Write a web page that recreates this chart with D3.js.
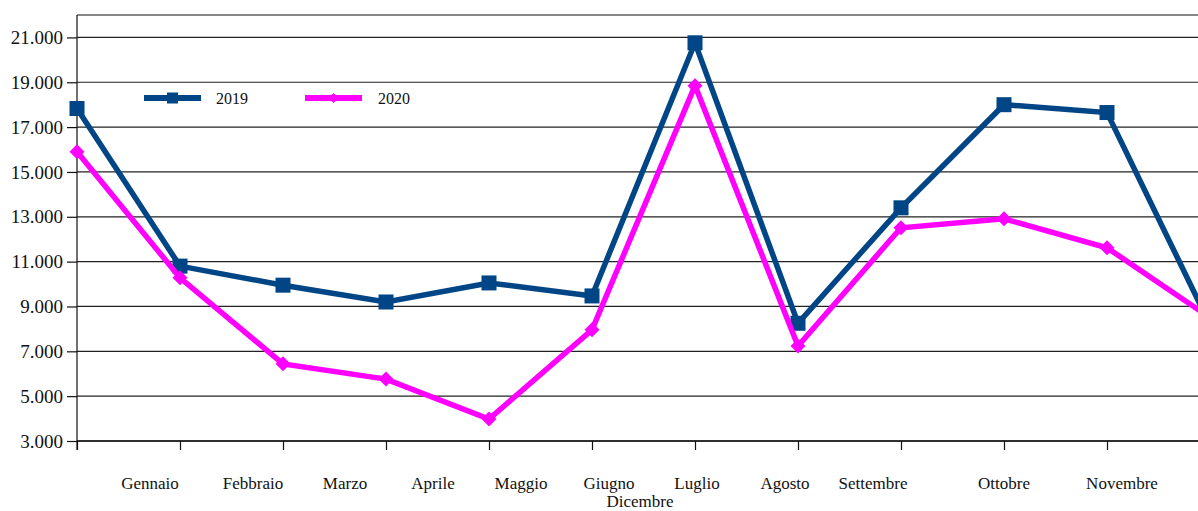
<!DOCTYPE html>
<html>
<head>
<meta charset="utf-8">
<script src="https://cdn.jsdelivr.net/npm/d3@7"></script>
<style>
  html, body { margin: 0; padding: 0; background: #fff; overflow: hidden; }
  svg { display: block; }
  svg text { font-family: "Liberation Serif", "Times New Roman", serif !important; fill: #111; }
</style>
</head>
<body>
<svg id="chart" width="1198" height="511"></svg>
<script>
// Monthly totals, two years
const months = ["Gennaio", "Febbraio", "Marzo", "Aprile", "Maggio", "Giugno",
                "Luglio", "Agosto", "Settembre", "Ottobre", "Novembre", "Dicembre"];
const values2019 = [17830, 10800, 9950, 9200, 10050, 9470, 20760, 8250, 13400, 18000, 17650, 8180];
const values2020 = [15900, 10280, 6440, 5760, 3980, 7960, 18850, 7240, 12510, 12910, 11620, 8500];
const yTicks = [3000, 5000, 7000, 9000, 11000, 13000, 15000, 17000, 19000, 21000];
const seriesNames = ["2019", "2020"];

// Layout
const plotLeft = 77, plotTop = 15, plotBottom = 441, step = 103;
const plotRight = plotLeft + step * (months.length - 1);
// category label centres (staggered, last one wraps to a second row)
const labelX = [150, 253, 345, 433, 521, 609, 697, 785, 873, 1004, 1122, 640];
const labelRow = [0, 0, 0, 0, 0, 0, 0, 0, 0, 0, 0, 1];

const svg = d3.select("#chart");
const fmt = d3.formatLocale({ decimal: ",", thousands: ".", grouping: [3], currency: ["", ""] }).format(",.0f");

const x = d3.scalePoint().domain(months).range([plotLeft, plotRight]);
const y = d3.scaleLinear().domain([3000, 22000]).range([plotBottom, plotTop]);

// horizontal grid
svg.append("g").selectAll("line").data(yTicks).join("line")
  .attr("x1", plotLeft).attr("x2", plotRight + 20)
  .attr("y1", d => y(d)).attr("y2", d => y(d))
  .attr("stroke", "#222").attr("stroke-width", 1.2);

// top frame
svg.append("line").attr("x1", plotLeft).attr("x2", plotRight + 20)
  .attr("y1", plotTop).attr("y2", plotTop).attr("stroke", "#111").attr("stroke-width", 1.2);

// y axis
const yAxis = svg.append("g").attr("transform", `translate(${plotLeft},0)`)
  .call(d3.axisLeft(y).tickValues(yTicks).tickFormat(fmt).tickSize(10).tickPadding(4))
  .attr("font-family", null).attr("font-size", null);
yAxis.select(".domain").remove();
yAxis.selectAll("line").attr("stroke", "#111").attr("stroke-width", 1.2);
yAxis.selectAll("text").style("font-size", "19px").style("fill", "#111");
svg.append("line").attr("x1", plotLeft).attr("x2", plotLeft)
  .attr("y1", plotTop).attr("y2", plotBottom + 9).attr("stroke", "#111").attr("stroke-width", 1.2);

// x axis ticks
const xAxis = svg.append("g").attr("transform", `translate(0,${plotBottom})`)
  .call(d3.axisBottom(x).tickSize(9).tickFormat(""));
xAxis.select(".domain").remove();
xAxis.selectAll("line").attr("stroke", "#111").attr("stroke-width", 1.2);
svg.append("line").attr("x1", plotLeft).attr("x2", plotRight + 20)
  .attr("y1", plotBottom).attr("y2", plotBottom).attr("stroke", "#111").attr("stroke-width", 1.4);

// category labels
svg.append("g").selectAll("text").data(months).join("text")
  .attr("x", (d, i) => labelX[i])
  .attr("y", (d, i) => 489 + labelRow[i] * 18)
  .attr("text-anchor", "middle").style("font-size", "17px")
  .text(d => d);

const colors = ["#004586", "#ff00ff"];
const line = d3.line().x((d, i) => x(months[i])).y(d => y(d));

function drawMarker(g, kind, cx, cy, size, color) {
  if (kind === 0) {
    g.append("rect").attr("x", cx - size / 2).attr("y", cy - size / 2)
      .attr("width", size).attr("height", size).attr("fill", color);
  } else {
    const r = size / 2;
    g.append("path").attr("d", `M${cx},${cy - r}L${cx + r},${cy}L${cx},${cy + r}L${cx - r},${cy}Z`)
      .attr("fill", color);
  }
}

[values2019, values2020].forEach((vals, s) => {
  const g = svg.append("g");
  g.append("path").datum(vals).attr("d", line)
    .attr("fill", "none").attr("stroke", colors[s]).attr("stroke-width", 5.5)
    .attr("stroke-linejoin", "miter");
  vals.forEach((v, i) => drawMarker(g, s, x(months[i]), y(v), 15, colors[s]));
});

// legend
const legendItems = [{ x1: 144, x2: 201, tx: 216 }, { x1: 305, x2: 362, tx: 378 }];
legendItems.forEach((it, s) => {
  const g = svg.append("g");
  g.append("line").attr("x1", it.x1).attr("x2", it.x2).attr("y1", 98).attr("y2", 98)
    .attr("stroke", colors[s]).attr("stroke-width", 6);
  drawMarker(g, s, (it.x1 + it.x2) / 2, 98, s === 0 ? 11 : 10, colors[s]);
  g.append("text").attr("x", it.tx).attr("y", 104).style("font-size", "16px").text(seriesNames[s]);
});
</script>
</body>
</html>
